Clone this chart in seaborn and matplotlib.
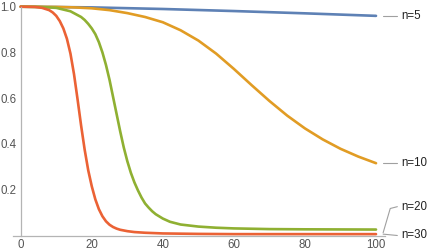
import matplotlib
matplotlib.use("Agg")
import matplotlib.pyplot as plt
import seaborn as sns
import pandas as pd
from matplotlib.ticker import MultipleLocator, FixedLocator

# ---- data ----
labels = ["n=5", "n=10", "n=20", "n=30"]
colors = ["#5E81B5", "#E19C24", "#8FB032", "#EB6235"]

x_n5 = [0, 20, 40, 60, 80, 100]
y_n5 = [1.0, 0.997, 0.99, 0.981, 0.971, 0.96]

x_n10 = [0, 10, 15, 20, 25, 30, 35, 40, 45, 50, 55, 60, 65, 70, 75, 80, 85, 90, 95, 100]
y_n10 = [1.0, 0.999, 0.997, 0.993, 0.985, 0.972, 0.955, 0.932, 0.897, 0.852, 0.795,
         0.728, 0.657, 0.588, 0.524, 0.468, 0.42, 0.379, 0.345, 0.316]

x_n20 = [0, 5, 10, 14, 17, 18, 19, 20, 21, 22, 23, 24, 25, 26, 27, 28, 29, 30, 31, 32,
         33, 34, 35, 36, 37, 38, 40, 42, 45, 50, 55, 60, 70, 80, 100]
y_n20 = [1.0, 0.999, 0.995, 0.98, 0.955, 0.942, 0.925, 0.905, 0.88, 0.845, 0.80, 0.745,
         0.68, 0.605, 0.53, 0.455, 0.385, 0.325, 0.274, 0.232, 0.197, 0.166, 0.14,
         0.122, 0.106, 0.093, 0.074, 0.06, 0.048, 0.039, 0.034, 0.031, 0.028, 0.027,
         0.026]

x_n30 = [0, 4, 6, 8, 9, 10, 11, 12, 13, 14, 15, 16, 17, 18, 19, 20, 21, 22, 23, 24,
         25, 26, 27, 28, 30, 32, 35, 40, 50, 60, 80, 100]
y_n30 = [1.0, 0.999, 0.995, 0.985, 0.975, 0.96, 0.937, 0.905, 0.86, 0.795, 0.705,
         0.595, 0.48, 0.375, 0.285, 0.215, 0.158, 0.115, 0.084, 0.062, 0.047, 0.037,
         0.03, 0.025, 0.019, 0.015, 0.012, 0.009, 0.007, 0.006, 0.006, 0.006]

xs = [x_n5, x_n10, x_n20, x_n30]
ys = [y_n5, y_n10, y_n20, y_n30]

x_ticks = [0, 20, 40, 60, 80, 100]
y_ticks = [0.2, 0.4, 0.6, 0.8, 1.0]
y_ticklabels = ["0.2", "0.4", "0.6", "0.8", "1.0"]

# ---- figure ----
sns.set_style("white")
plt.rcParams["font.family"] = ["Liberation Sans", "DejaVu Sans"]

fig = plt.figure(figsize=(4.44, 2.50), dpi=100)
ax = fig.add_axes([12.9 / 444, 14.5 / 250, 372 / 444, 228.8 / 250])

for lab, col, xx, yy in zip(labels, colors, xs, ys):
    df = pd.DataFrame({"x": xx, "y": yy})
    sns.lineplot(data=df, x="x", y="y", ax=ax, color=col, linewidth=1.9,
                 clip_on=False, legend=False)

ax.set_xlim(-2.2, 102.5)
ax.set_ylim(0, 1.0)

axis_col = "#b4b4b4"
for s in ["top", "right"]:
    ax.spines[s].set_visible(False)
ax.spines["left"].set_position(("data", 0))
ax.spines["left"].set_bounds(0, 1.0)
for s in ["left", "bottom"]:
    ax.spines[s].set_color(axis_col)
    ax.spines[s].set_linewidth(0.9)

ax.xaxis.set_major_locator(FixedLocator(x_ticks))
ax.xaxis.set_minor_locator(MultipleLocator(5))
ax.yaxis.set_major_locator(FixedLocator(y_ticks))
ax.set_yticklabels(y_ticklabels)
ax.yaxis.set_minor_locator(MultipleLocator(0.05))

ax.tick_params(axis="both", which="major", direction="in", length=3.0, width=0.7,
               color=axis_col, labelcolor="#555555", labelsize=8.3)
ax.tick_params(axis="both", which="minor", direction="in", length=1.6, width=0.6,
               color=axis_col)
ax.tick_params(axis="x", which="major", pad=2.6)
ax.tick_params(axis="y", which="major", pad=3.3)
ax.set_xlabel("")
ax.set_ylabel("")
ax.grid(False)

# ---- curve-end labels with leader lines ----
lead_col = "#a0a0a0"
label_y = [y_n5[-1], y_n10[-1], 0.126, 0.0]
for lab, yend, ly in zip(labels, [y_n5[-1], y_n10[-1], y_n20[-1], y_n30[-1]], label_y):
    if lab == "n=20":
        ax.plot([102, 104, 106], [0.012, ly - 0.008, ly], color=lead_col,
                lw=0.8, clip_on=False)
    else:
        ax.plot([102, 106], [yend, ly], color=lead_col, lw=0.8, clip_on=False)
    ax.text(107.2, ly, lab, fontsize=8.3, color="#222222", va="center", ha="left",
            clip_on=False)

fig.savefig("out.png", dpi=100)
